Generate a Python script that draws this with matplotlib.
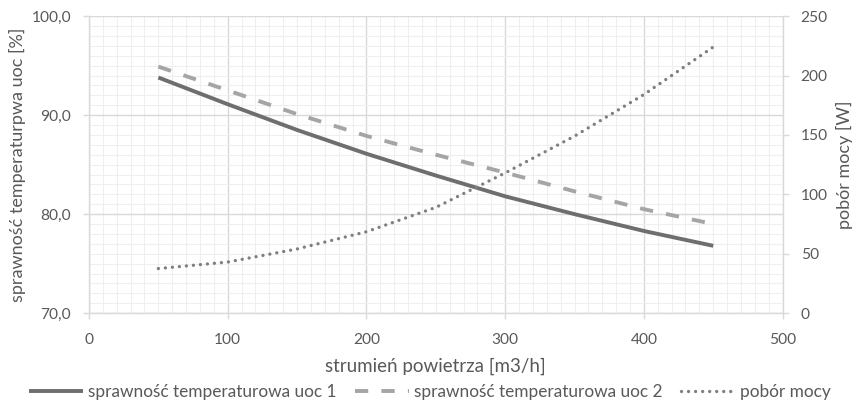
import numpy as np
import matplotlib.pyplot as plt
from matplotlib.ticker import MultipleLocator, FuncFormatter

plt.rcParams['font.family'] = ['Lato', 'DejaVu Sans']

# --- Data ---
flow = [50, 100, 150, 200, 250, 300, 350, 400, 450]
eff_uoc1 = [93.8, 91.1, 88.5, 86.1, 83.9, 81.8, 80.0, 78.3, 76.8]
eff_uoc2 = [94.9, 92.5, 90.1, 87.9, 86.0, 84.2, 82.3, 80.5, 79.0]
power = [37.5, 43, 54, 68.5, 89, 118, 149, 184, 224]

label_uoc1 = 'sprawność temperaturowa uoc 1'
label_uoc2 = 'sprawność temperaturowa uoc 2'
label_power = 'pobór mocy'

text_c = '#595959'
grid_c = '#d9d9d9'
minor_c = '#efefef'

fig = plt.figure(figsize=(8.6, 4.03), dpi=100)
ax = fig.add_axes([0.1035, 0.223, 0.8065, 0.737])
ax2 = ax.twinx()

# --- Lines ---
l1, = ax.plot(flow, eff_uoc1, color='#6e6e6e', lw=2.8, solid_capstyle='butt')
l2, = ax.plot(flow, eff_uoc2, color='#a5a5a5', lw=2.8, dashes=(3.4, 3.4),
              dash_capstyle='butt')
l3, = ax2.plot(flow, power, color='#7f7f7f', lw=2.4, dashes=(0.01, 2.1),
               dash_capstyle='round')

# --- Axes ---
ax.set_xlim(0, 500)
ax.set_ylim(70, 100)
ax2.set_ylim(0, 250)
ax.xaxis.set_major_locator(MultipleLocator(100))
ax.xaxis.set_minor_locator(MultipleLocator(10))
ax.yaxis.set_major_locator(MultipleLocator(10))
ax.yaxis.set_minor_locator(MultipleLocator(1))
ax2.yaxis.set_major_locator(MultipleLocator(50))
ax.yaxis.set_major_formatter(FuncFormatter(lambda v, p: f'{v:.1f}'.replace('.', ',')))

ax.grid(True, which='major', color=grid_c, lw=1.0)
ax.grid(True, which='minor', color=minor_c, lw=0.8)
ax.set_axisbelow(True)

for a in (ax, ax2):
    for s in a.spines.values():
        s.set_visible(False)
ax.spines['left'].set_visible(True)
ax.spines['bottom'].set_visible(True)
ax2.spines['right'].set_visible(True)
for s in (ax.spines['left'], ax.spines['bottom'], ax2.spines['right']):
    s.set_color(grid_c)
    s.set_linewidth(1.0)

ax.tick_params(which='major', colors=grid_c, labelcolor=text_c, labelsize=11.2,
               length=4, width=1)
ax.tick_params(axis='x', pad=10)
ax.tick_params(axis='y', pad=9)
ax.tick_params(which='minor', length=0)
ax2.tick_params(colors=grid_c, labelcolor=text_c, labelsize=11.2, length=4,
                width=1, pad=9)

ax.set_xlabel('strumień powietrza [m3/h]', color=text_c, fontsize=13.5, labelpad=8)
ax.set_ylabel('sprawność temperaturpwa uoc [%]', color=text_c, fontsize=13, labelpad=4)
ax2.set_ylabel('pobór mocy [W]', color=text_c, fontsize=13, labelpad=6)

# --- Legend ---
leg = fig.legend([l1, l2, l3], [label_uoc1, label_uoc2, label_power],
                 loc='center', bbox_to_anchor=(0.5, 0.028), ncol=3,
                 frameon=False, fontsize=12.4, handlelength=3.1,
                 handletextpad=0.3, columnspacing=1.1,
                 borderpad=0, borderaxespad=0)
for t in leg.get_texts():
    t.set_color(text_c)

fig.savefig('out.png', dpi=100)
